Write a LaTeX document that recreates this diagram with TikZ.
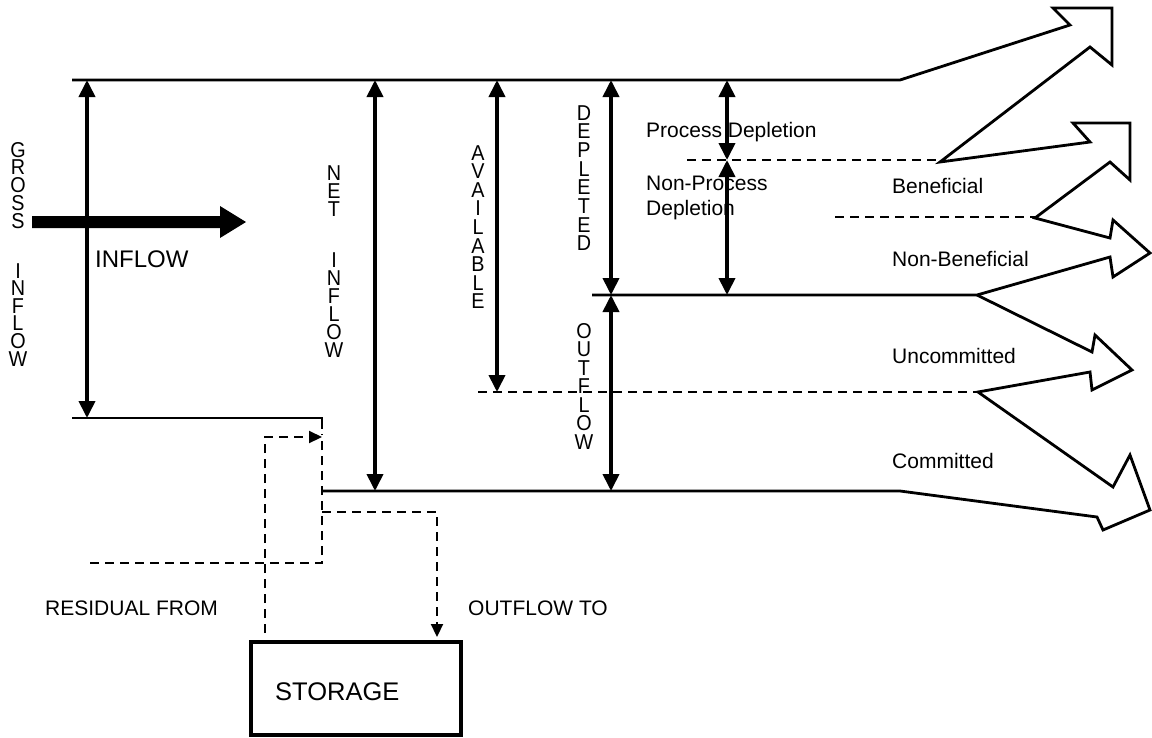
\documentclass[tikz,border=0pt]{standalone}
\usepackage{fontspec}
\setmainfont{Liberation Sans}
\usetikzlibrary{arrows.meta}
\begin{document}
\begin{tikzpicture}[x=1pt,y=-1pt,
  flow/.style={line width=2.8pt, line join=miter, miter limit=20},
  dashline/.style={line width=2.2pt, dash pattern=on 9pt off 6pt},
  dashtip/.style={dashline, -{Triangle[length=13pt,width=12pt]}},
  dim/.style={line width=3.8pt, {Triangle[length=17pt,width=16pt]}-{Triangle[length=17pt,width=16pt]}},
  lbl/.style={font=\fontsize{21}{25}\selectfont, anchor=base west, inner sep=0pt, align=left},
  letter/.style={anchor=base, inner sep=0pt, xscale=0.92, font=\fontsize{21.5}{22}\selectfont},
]
\useasboundingbox (0,0) rectangle (1152,737);

% key coordinates
\coordinate (tl) at (72,80);
\coordinate (tr) at (900,80);
\coordinate (bl) at (72,418);
\coordinate (bk) at (322,418);
\coordinate (bk2) at (322,429);
\coordinate (mid) at (592,295);
\coordinate (midR) at (977,295);
\coordinate (botL) at (322,491);
\coordinate (botR) at (900,491);

% main outline flows (top group)
\draw[flow] (tl) -- (tr) -- (1070,25) -- (1053,8) -- (1112,8) -- (1112,65) -- (1090,47)
  -- (940,162) -- (1090,142) -- (1073,123) -- (1130,123) -- (1130,180) -- (1110,162)
  -- (1035,218) -- (1110,238) -- (1113,220) -- (1150,253) -- (1113,277) -- (1110,257)
  -- (midR) -- (mid);
% lower group
\draw[flow] (midR) -- (1092,352) -- (1095,335) -- (1132,370) -- (1092,390) -- (1090,372)
  -- (978,392) -- (1113,487) -- (1130,455) -- (1150,510) -- (1103,530) -- (1097,517)
  -- (botR) -- (botL);

\draw[flow] (bl) -- (bk) -- (bk2);

% dashed separators
\draw[dashline] (687,160) -- (940,160);
\draw[dashline] (835,217) -- (1035,217);
\draw[dashline] (478,392) -- (978,392);

% dimension arrows
\draw[dim] (87,80) -- (87,418);
\draw[dim] (375,80) -- (375,491);
\draw[dim] (497,80) -- (497,392);
\draw[dim] (611,80) -- (611,295);
\draw[dim] (611,295) -- (611,491);
\draw[dim] (727,80) -- (727,160);
\draw[dim] (727,160) -- (727,295);

% thick inflow arrow
\fill (32,216) -- (220,216) -- (220,206) -- (246,222) -- (220,238) -- (220,228) -- (32,228) -- cycle;

% storage
\node[draw, line width=4pt, minimum width=210pt, minimum height=93pt, anchor=north west, inner sep=0pt] (storage) at (249,640) {};
\node[anchor=base west, inner sep=0pt, font=\fontsize{25.5}{26}\selectfont] (storlbl) at (275,700) {STORAGE};

% dashed storage connections
\draw[dashline] (90,563) -- (322,563) -- (322,434);
\draw[dashtip] (265,633) -- (265,437) -- (322,437);
\draw[dashtip] (322,512) -- (437,512) -- (437,637);

% stacked labels (one upright letter per row)
\foreach \l [count=\i] in {G,R,O,S,S}
  \node[letter] (gA\i) at (18,157+17.75*\i-17.75) {\l};
\foreach \l [count=\i] in {I,N,F,L,O,W}
  \node[letter] (gB\i) at (18,278+17.6*\i-17.6) {\l};
\foreach \l [count=\i] in {N,E,T}
  \node[letter] (nA\i) at (334,180+18*\i-18) {\l};
\foreach \l [count=\i] in {I,N,F,L,O,W}
  \node[letter] (nB\i) at (334,267+18*\i-18) {\l};
\foreach \l [count=\i] in {A,V,A,I,L,A,B,L,E}
  \node[letter] (av\i) at (478,160+18.6*\i-18.6) {\l};
\foreach \l [count=\i] in {D,E,P,L,E,T,E,D}
  \node[letter] (dp\i) at (584,120+18.7*\i-18.7) {\l};
\foreach \l [count=\i] in {O,U,T,F,L,O,W}
  \node[letter] (of\i) at (584,338+18.5*\i-18.5) {\l};

% horizontal labels
\node[anchor=base west, inner sep=0pt, font=\fontsize{24}{24}\selectfont] (inflow) at (95,267) {INFLOW};
\node[lbl] (pd) at (646,137) {Process Depletion};
\node[lbl] (npd) at (646,215) {Non-Process\\Depletion};
\node[lbl] (ben) at (892,193) {Beneficial};
\node[lbl] (nben) at (892,266) {Non-Beneficial};
\node[lbl] (unc) at (892,363) {Uncommitted};
\node[lbl] (com) at (892,468) {Committed};
\node[lbl] (resid) at (45,615) {RESIDUAL FROM};
\node[lbl] (outto) at (468,615) {OUTFLOW TO};
\end{tikzpicture}
\end{document}
